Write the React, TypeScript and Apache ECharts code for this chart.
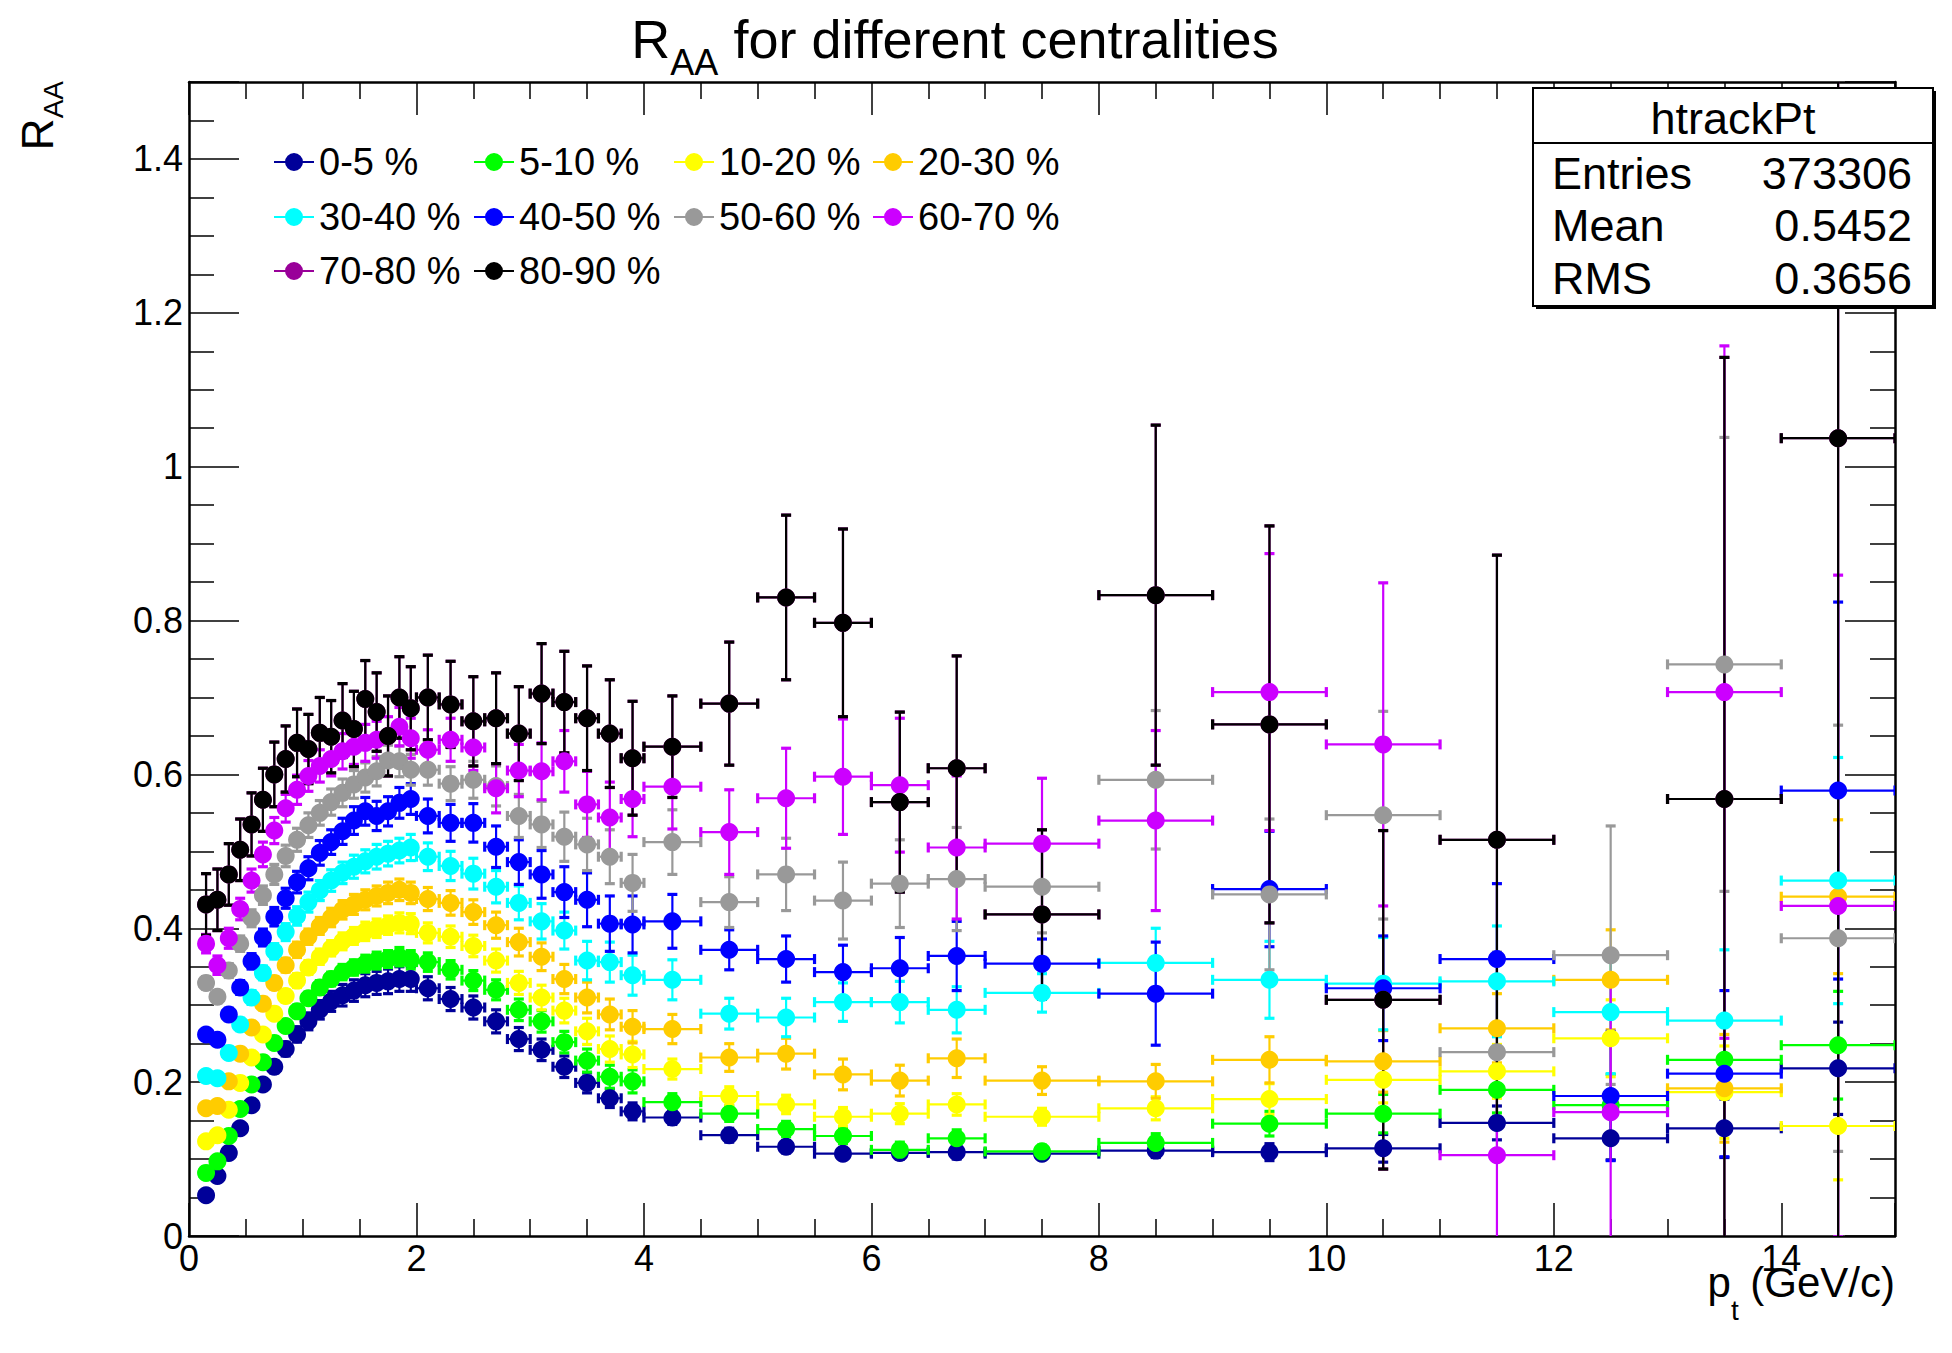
import React, { useEffect, useRef } from 'react';
import * as echarts from 'echarts';

const FONT = "'Liberation Sans', Arial, Helvetica, sans-serif";

// pT bin edges (GeV/c)
const binEdges = [
  0.1, 0.2, 0.3, 0.4, 0.5, 0.6, 0.7, 0.8, 0.9, 1.0, 1.1, 1.2, 1.3, 1.4, 1.5, 1.6, 1.7, 1.8, 1.9, 2.0,
  2.2, 2.4, 2.6, 2.8, 3.0, 3.2, 3.4, 3.6, 3.8, 4.0,
  4.5, 5.0, 5.5, 6.0, 6.5, 7.0,
  8, 9, 10, 11, 12, 13, 14, 15,
];

const centralities = ['0-5 %', '5-10 %', '10-20 %', '20-30 %', '30-40 %', '40-50 %', '50-60 %', '60-70 %', '70-80 %', '80-90 %'];
const colors = ['#000099', '#00ff00', '#ffff00', '#ffcc00', '#00ffff', '#0000ff', '#999999', '#cc00ff', '#990099', '#000000'];

const raa_0_5 = [
  0.053, 0.078, 0.108, 0.140, 0.170, 0.197, 0.220, 0.243, 0.262, 0.279, 0.294, 0.305, 0.313, 0.319, 0.326, 0.329, 0.331, 0.334, 0.334,
  0.322, 0.308, 0.297, 0.279, 0.256, 0.242, 0.220, 0.199, 0.179, 0.162,
  0.154, 0.131, 0.116, 0.107, 0.108, 0.109,
  0.107, 0.111, 0.109, 0.114, 0.147, 0.127, 0.140, 0.218,
];
const err_0_5 = [
  0.002, 0.003, 0.004, 0.005, 0.006, 0.007, 0.008, 0.009, 0.010, 0.011, 0.012, 0.013, 0.014, 0.014, 0.015, 0.015, 0.016, 0.016, 0.016,
  0.015, 0.015, 0.015, 0.015, 0.015, 0.014, 0.014, 0.013, 0.012, 0.011,
  0.009, 0.009, 0.008, 0.007, 0.008, 0.009,
  0.006, 0.009, 0.011, 0.018, 0.022, 0.028, 0.038, 0.060,
];
const raa_5_10 = [
  0.082, 0.097, 0.130, 0.165, 0.197, 0.226, 0.251, 0.273, 0.292, 0.309, 0.323, 0.334, 0.343, 0.349, 0.354, 0.358, 0.360, 0.363, 0.359,
  0.356, 0.346, 0.332, 0.320, 0.294, 0.279, 0.252, 0.228, 0.207, 0.201,
  0.174, 0.159, 0.139, 0.130, 0.112, 0.127,
  0.110, 0.121, 0.146, 0.159, 0.190, 0.170, 0.229, 0.248,
];
const err_5_10 = [
  0.003, 0.003, 0.004, 0.005, 0.005, 0.006, 0.007, 0.007, 0.008, 0.008, 0.009, 0.009, 0.010, 0.010, 0.011, 0.011, 0.011, 0.012, 0.012,
  0.012, 0.012, 0.013, 0.013, 0.014, 0.014, 0.014, 0.015, 0.015, 0.015,
  0.011, 0.010, 0.010, 0.010, 0.010, 0.011,
  0.008, 0.012, 0.016, 0.025, 0.030, 0.040, 0.050, 0.070,
];
const raa_10_20 = [
  0.123, 0.131, 0.164, 0.199, 0.232, 0.262, 0.289, 0.312, 0.332, 0.349, 0.363, 0.374, 0.383, 0.390, 0.396, 0.400, 0.404, 0.407, 0.406,
  0.394, 0.389, 0.377, 0.358, 0.329, 0.310, 0.293, 0.266, 0.243, 0.236,
  0.217, 0.182, 0.171, 0.155, 0.159, 0.171,
  0.155, 0.166, 0.178, 0.203, 0.214, 0.257, 0.187, 0.143,
];
const err_10_20 = [
  0.003, 0.004, 0.005, 0.005, 0.006, 0.007, 0.007, 0.008, 0.009, 0.009, 0.010, 0.010, 0.011, 0.011, 0.012, 0.012, 0.012, 0.013, 0.013,
  0.013, 0.014, 0.014, 0.015, 0.015, 0.016, 0.016, 0.017, 0.017, 0.017,
  0.013, 0.012, 0.012, 0.012, 0.013, 0.014,
  0.011, 0.015, 0.020, 0.030, 0.035, 0.050, 0.060, 0.070,
];
const raa_20_30 = [
  0.166, 0.169, 0.201, 0.237, 0.271, 0.302, 0.329, 0.352, 0.372, 0.389, 0.403, 0.414, 0.424, 0.431, 0.437, 0.442, 0.446, 0.450, 0.446,
  0.438, 0.433, 0.421, 0.404, 0.382, 0.363, 0.334, 0.310, 0.288, 0.272,
  0.269, 0.232, 0.237, 0.210, 0.202, 0.231,
  0.202, 0.201, 0.229, 0.227, 0.270, 0.333, 0.192, 0.441,
];
const err_20_30 = [
  0.004, 0.005, 0.006, 0.006, 0.007, 0.008, 0.008, 0.009, 0.010, 0.010, 0.011, 0.012, 0.012, 0.013, 0.013, 0.013, 0.014, 0.014, 0.014,
  0.015, 0.016, 0.016, 0.017, 0.018, 0.018, 0.019, 0.020, 0.020, 0.021,
  0.019, 0.018, 0.020, 0.020, 0.020, 0.025,
  0.018, 0.022, 0.030, 0.040, 0.045, 0.065, 0.070, 0.100,
];
const raa_30_40 = [
  0.208, 0.205, 0.238, 0.275, 0.310, 0.342, 0.370, 0.395, 0.416, 0.434, 0.449, 0.462, 0.472, 0.480, 0.487, 0.493, 0.497, 0.501, 0.505,
  0.493, 0.481, 0.471, 0.454, 0.433, 0.409, 0.397, 0.358, 0.356, 0.339,
  0.333, 0.289, 0.284, 0.304, 0.304, 0.294,
  0.316, 0.355, 0.333, 0.328, 0.331, 0.291, 0.280, 0.462,
];
const err_30_40 = [
  0.005, 0.006, 0.007, 0.008, 0.009, 0.009, 0.010, 0.011, 0.012, 0.013, 0.013, 0.014, 0.014, 0.015, 0.015, 0.016, 0.016, 0.016, 0.017,
  0.018, 0.019, 0.020, 0.021, 0.022, 0.023, 0.024, 0.025, 0.026, 0.026,
  0.026, 0.020, 0.025, 0.025, 0.027, 0.030,
  0.025, 0.045, 0.050, 0.060, 0.072, 0.080, 0.092, 0.160,
];
const raa_40_50 = [
  0.262, 0.255, 0.288, 0.323, 0.357, 0.388, 0.415, 0.439, 0.460, 0.478, 0.498, 0.512, 0.526, 0.540, 0.552, 0.546, 0.552, 0.563, 0.568,
  0.546, 0.537, 0.537, 0.506, 0.486, 0.470, 0.447, 0.437, 0.406, 0.405,
  0.409, 0.372, 0.360, 0.343, 0.348, 0.364,
  0.354, 0.315, 0.451, 0.322, 0.360, 0.182, 0.211, 0.579,
];
const err_40_50 = [
  0.007, 0.007, 0.008, 0.009, 0.010, 0.011, 0.012, 0.013, 0.014, 0.015, 0.016, 0.016, 0.017, 0.018, 0.018, 0.019, 0.019, 0.020, 0.020,
  0.022, 0.024, 0.025, 0.027, 0.029, 0.031, 0.033, 0.035, 0.036, 0.037,
  0.035, 0.026, 0.030, 0.035, 0.040, 0.045,
  0.032, 0.067, 0.075, 0.068, 0.098, 0.084, 0.108, 0.245,
];
const raa_50_60 = [
  0.329, 0.311, 0.345, 0.380, 0.413, 0.443, 0.470, 0.494, 0.515, 0.534, 0.550, 0.564, 0.576, 0.587, 0.596, 0.604, 0.618, 0.617, 0.606,
  0.606, 0.588, 0.593, 0.585, 0.546, 0.535, 0.519, 0.509, 0.493, 0.459,
  0.512, 0.434, 0.470, 0.436, 0.458, 0.464,
  0.454, 0.593, 0.444, 0.547, 0.239, 0.365, 0.743, 0.387,
];
const err_50_60 = [
  0.008, 0.008, 0.009, 0.010, 0.011, 0.012, 0.013, 0.014, 0.015, 0.016, 0.016, 0.017, 0.018, 0.018, 0.019, 0.019, 0.020, 0.020, 0.020,
  0.020, 0.022, 0.024, 0.026, 0.028, 0.030, 0.032, 0.034, 0.035, 0.037,
  0.042, 0.033, 0.047, 0.050, 0.057, 0.067,
  0.060, 0.090, 0.098, 0.135, 0.130, 0.168, 0.295, 0.277,
];
const raa_60_70 = [
  0.380, 0.352, 0.387, 0.425, 0.462, 0.496, 0.527, 0.556, 0.580, 0.598, 0.611, 0.620, 0.630, 0.636, 0.641, 0.645, 0.650, 0.662, 0.647,
  0.632, 0.645, 0.635, 0.582, 0.605, 0.604, 0.617, 0.561, 0.544, 0.568,
  0.584, 0.525, 0.569, 0.597, 0.586, 0.505,
  0.510, 0.540, 0.707, 0.639, 0.105, 0.161, 0.707, 0.429,
];
const err_60_70 = [
  0.012, 0.012, 0.013, 0.014, 0.015, 0.016, 0.017, 0.018, 0.019, 0.020, 0.021, 0.022, 0.023, 0.023, 0.024, 0.024, 0.025, 0.025, 0.026,
  0.026, 0.028, 0.030, 0.032, 0.034, 0.037, 0.040, 0.043, 0.046, 0.049,
  0.055, 0.055, 0.065, 0.075, 0.087, 0.093,
  0.085, 0.117, 0.180, 0.210, 0.130, 0.170, 0.450, 0.430,
];
const raa_70_80 = [
  0.431, 0.437, 0.470, 0.502, 0.535, 0.567, 0.600, 0.620, 0.641, 0.633, 0.654, 0.649, 0.670, 0.659, 0.698, 0.681, 0.650, 0.700, 0.686,
  0.700, 0.691, 0.669, 0.673, 0.653, 0.705, 0.694, 0.673, 0.653, 0.621,
  0.636, 0.692, 0.830, 0.797, 0.564, 0.608,
  0.418, 0.833, 0.665, 0.307, 0.515, null, 0.568, 1.037,
];
const err_70_80 = [
  0.040, 0.040, 0.040, 0.040, 0.041, 0.041, 0.042, 0.043, 0.044, 0.045, 0.046, 0.047, 0.048, 0.049, 0.050, 0.051, 0.052, 0.053, 0.054,
  0.055, 0.056, 0.058, 0.059, 0.061, 0.065, 0.066, 0.068, 0.070, 0.074,
  0.066, 0.080, 0.107, 0.122, 0.117, 0.146,
  0.110, 0.221, 0.258, 0.220, 0.370, null, 0.574, 1.050,
];
const raa_80_90 = [
  0.431, 0.437, 0.470, 0.502, 0.535, 0.567, 0.600, 0.620, 0.641, 0.633, 0.654, 0.649, 0.670, 0.659, 0.698, 0.681, 0.650, 0.700, 0.686,
  0.700, 0.691, 0.669, 0.673, 0.653, 0.705, 0.694, 0.673, 0.653, 0.621,
  0.636, 0.692, 0.830, 0.797, 0.564, 0.608,
  0.418, 0.833, 0.665, 0.307, 0.515, null, 0.568, 1.037,
];
const err_80_90 = [
  0.040, 0.040, 0.040, 0.040, 0.041, 0.041, 0.042, 0.043, 0.044, 0.045, 0.046, 0.047, 0.048, 0.049, 0.050, 0.051, 0.052, 0.053, 0.054,
  0.055, 0.056, 0.058, 0.059, 0.061, 0.065, 0.066, 0.068, 0.070, 0.074,
  0.066, 0.080, 0.107, 0.122, 0.117, 0.146,
  0.110, 0.221, 0.258, 0.220, 0.370, null, 0.574, 1.050,
];

const allValues = [raa_0_5, raa_5_10, raa_10_20, raa_20_30, raa_30_40, raa_40_50, raa_50_60, raa_60_70, raa_70_80, raa_80_90];
const allErrors = [err_0_5, err_5_10, err_10_20, err_20_30, err_30_40, err_40_50, err_50_60, err_60_70, err_70_80, err_80_90];

const statsTitle = 'htrackPt';
const statsRows = [
  ['Entries', '373306'],
  ['Mean', '0.5452'],
  ['RMS', '0.3656'],
];

// layout constants
const LEG_COL_X = [294, 494, 694, 893];
const LEG_ROW_Y = [162, 217, 271];

const CAP = 5;

function renderErrorBar(params: any, api: any) {
  const x = api.value(0);
  const y = api.value(1);
  const c = api.coord([x, y]);
  const l = api.coord([api.value(2), y]);
  const r = api.coord([api.value(3), y]);
  const b = api.coord([x, api.value(4)]);
  const t = api.coord([x, api.value(5)]);
  const color = api.visual('color');
  const st = { stroke: color, lineWidth: 2.2 };
  const cs = { stroke: color, lineWidth: 3.2 };
  return {
    type: 'group',
    children: [
      { type: 'line', shape: { x1: c[0], y1: b[1], x2: c[0], y2: t[1] }, style: st },
      { type: 'line', shape: { x1: c[0] - CAP, y1: b[1], x2: c[0] + CAP, y2: b[1] }, style: cs },
      { type: 'line', shape: { x1: c[0] - CAP, y1: t[1], x2: c[0] + CAP, y2: t[1] }, style: cs },
      { type: 'line', shape: { x1: l[0], y1: c[1], x2: r[0], y2: c[1] }, style: st },
      { type: 'line', shape: { x1: l[0], y1: c[1] - CAP, x2: l[0], y2: c[1] + CAP }, style: cs },
      { type: 'line', shape: { x1: r[0], y1: c[1] - CAP, x2: r[0], y2: c[1] + CAP }, style: cs },
    ],
  };
}

function buildOption() {
  const centers = binEdges.slice(0, -1).map((e, i) => (e + binEdges[i + 1]) / 2);
  const series: any[] = [];
  centralities.forEach((name, i) => {
    const vals = allValues[i];
    const errs = allErrors[i];
    const pts: number[][] = [];
    vals.forEach((v, k) => {
      if (v == null) return;
      const e = errs[k] == null ? 0 : (errs[k] as number);
      pts.push([centers[k], v, binEdges[k], binEdges[k + 1], v - e, v + e]);
    });
    series.push({
      type: 'custom',
      name,
      data: pts,
      renderItem: renderErrorBar,
      clip: true,
      silent: true,
      encode: { x: 0, y: 1 },
      itemStyle: { color: colors[i] },
    });
    series.push({
      type: 'scatter',
      name,
      data: pts.map((p) => [p[0], p[1]]),
      symbol: 'circle',
      symbolSize: 18,
      silent: true,
      itemStyle: { color: colors[i], opacity: 1 },
    });
  });

  const axisLine = { show: true, onZero: false, lineStyle: { color: '#000', width: 2.5 } };
  const tickStyle = { color: '#000', width: 1.5 };
  const xBase = {
    type: 'value', min: 0, max: 15, interval: 2,
    axisLine,
    axisTick: { show: true, inside: true, length: 33, lineStyle: tickStyle },
    minorTick: { show: true, splitNumber: 4, length: 17, lineStyle: tickStyle },
    splitLine: { show: false },
    minorSplitLine: { show: false },
  };
  const yBase = {
    type: 'value', min: 0, max: 1.5, interval: 0.2,
    axisLine,
    axisTick: { show: true, inside: true, length: 50, lineStyle: tickStyle },
    minorTick: { show: true, splitNumber: 4, length: 25, lineStyle: tickStyle },
    splitLine: { show: false },
    minorSplitLine: { show: false },
  };
  const labelStyle = { fontSize: 36, color: '#000', fontFamily: FONT };

  const legendIcon = 'path://M0,8L40,8L40,10L0,10Z M29,9A9,9,0,1,1,11,9A9,9,0,1,1,29,9Z';
  const legends = centralities.map((name, i) => ({
    data: [name],
    left: LEG_COL_X[i % 4] - 20,
    top: LEG_ROW_Y[Math.floor(i / 4)] - 19,
    icon: legendIcon,
    itemWidth: 40,
    itemHeight: 18,
    padding: 0,
    selectedMode: false,
    textStyle: { fontSize: 38, color: '#000', fontFamily: FONT },
  }));

  const subRich = (big: number, small: number, lh: number) => ({
    r: { fontSize: big, fontFamily: FONT, fontWeight: 'normal', color: '#000', verticalAlign: 'top' },
    s: { fontSize: small, fontFamily: FONT, fontWeight: 'normal', color: '#000', verticalAlign: 'bottom', lineHeight: lh },
  });

  const statsElements: any[] = [
    { type: 'rect', shape: { x: 1536, y: 91, width: 400, height: 218 }, style: { fill: '#000' }, z: 100 },
    { type: 'rect', shape: { x: 1533, y: 88, width: 400, height: 218 }, style: { fill: '#fff', stroke: '#000', lineWidth: 2 }, z: 101 },
    { type: 'line', shape: { x1: 1533, y1: 143, x2: 1933, y2: 143 }, style: { stroke: '#000', lineWidth: 2 }, z: 102 },
    {
      type: 'text', x: 1733, y: 118, z: 102,
      style: { text: statsTitle, fontSize: 45, fontFamily: FONT, fill: '#000', align: 'center', verticalAlign: 'middle', textAlign: 'center', textVerticalAlign: 'middle' },
    },
  ];
  statsRows.forEach((row, i) => {
    const y = 173 + i * 52.5;
    statsElements.push({
      type: 'text', x: 1552, y, z: 102,
      style: { text: row[0], fontSize: 45, fontFamily: FONT, fill: '#000', align: 'left', verticalAlign: 'middle', textAlign: 'left', textVerticalAlign: 'middle' },
    });
    statsElements.push({
      type: 'text', x: 1912, y, z: 102,
      style: { text: row[1], fontSize: 45, fontFamily: FONT, fill: '#000', align: 'right', verticalAlign: 'middle', textAlign: 'right', textVerticalAlign: 'middle' },
    });
  });

  return {
    animation: false,
    backgroundColor: '#fff',
    title: {
      text: '{r|R}{s|AA}{r| for different centralities}',
      left: 955,
      top: 12,
      padding: 0,
      textAlign: 'center',
      textStyle: { fontWeight: 'normal', fontFamily: FONT, rich: subRich(54, 36, 68) },
    },
    grid: { left: 189, right: 57, top: 82, bottom: 117, containLabel: false },
    xAxis: [
      { ...xBase, position: 'bottom', axisLabel: { ...labelStyle, margin: 4, showMaxLabel: false } },
      { ...xBase, position: 'top', axisLabel: { show: false } },
    ],
    yAxis: [
      { ...yBase, position: 'left', axisLabel: { ...labelStyle, margin: 6, showMaxLabel: false } },
      { ...yBase, position: 'right', axisLabel: { show: false } },
    ],
    legend: legends,
    series,
    graphic: {
      elements: [
        {
          type: 'text', x: 1895, y: 1261, z: 50,
          style: { text: '{r|p}{s|t}{r| (GeV/c)}', rich: subRich(42, 28, 63), align: 'right', verticalAlign: 'top', textAlign: 'right', textVerticalAlign: 'top', fill: '#000' },
        },
        {
          type: 'text', x: 15, y: 81, rotation: Math.PI / 2, z: 50,
          style: { text: '{r|R}{s|AA}', rich: subRich(44, 28, 52), align: 'right', verticalAlign: 'top', textAlign: 'right', textVerticalAlign: 'top', fill: '#000' },
        },
        ...statsElements,
      ],
    },
  };
}

export default function App() {
  const ref = useRef<HTMLDivElement>(null);
  useEffect(() => {
    if (!ref.current) return;
    const chart = echarts.init(ref.current, null, { renderer: 'svg' });
    chart.setOption(buildOption() as any);
    return () => chart.dispose();
  }, []);
  return (
    <div
      ref={ref}
      style={{ position: 'absolute', left: 0, top: 0, width: 1952, height: 1353, background: '#fff' }}
    />
  );
}
